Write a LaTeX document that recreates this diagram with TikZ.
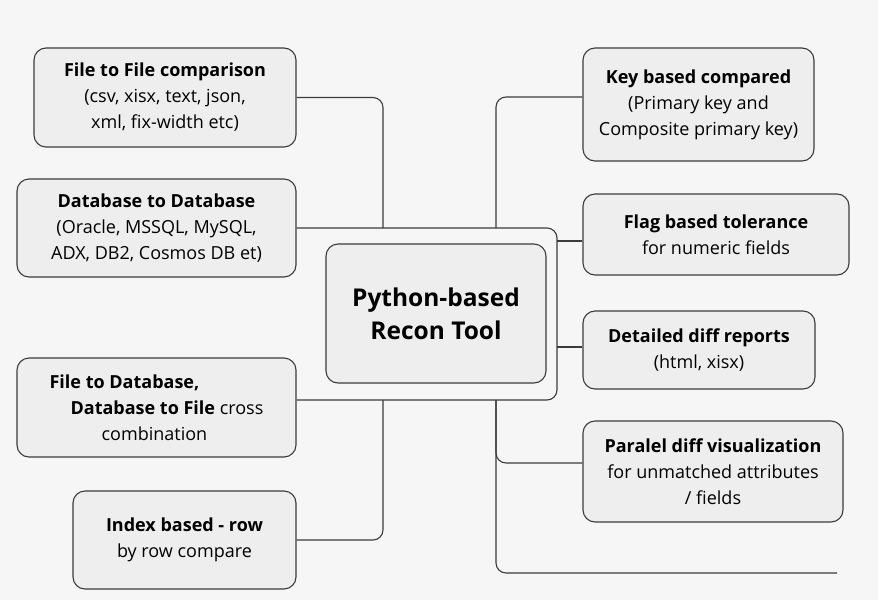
\documentclass[tikz,border=0pt]{standalone}
\usepackage{fontspec}
\setmainfont{Open Sans}
\usetikzlibrary{positioning}

\definecolor{reconSketchBack}{RGB}{246,246,246}
\definecolor{reconSketchFill}{RGB}{238,238,238}
\definecolor{reconSketchLine}{RGB}{60,60,60}
\tikzset{reconSketchBox/.style={
    font=\fontsize{18}{26}\selectfont,
    fill=reconSketchFill,
    draw=reconSketchLine,
    line width=1.1pt,
    rounded corners=12pt,
    align=center,
    inner sep=0pt,
  }
}
\tikzset{reconSketchLink/.style={
    line width=1.1pt,
    reconSketchLine,
    rounded corners=10pt,
  }
}

\begin{document}
\begin{tikzpicture}[x=1pt, y=-1pt]
  \fill[reconSketchBack] (0,0) rectangle (878,600);

  % left column
  \node [reconSketchBox, minimum width=262pt, minimum height=99pt] (fileFile)
  at (165, 97.5) {\textbf{File to File comparison}\\(csv, xisx, text, json,\\xml, fix-width etc)};
  \node [reconSketchBox, minimum width=279pt, minimum height=98pt] (dbDb)
  at (156.5, 228) {\textbf{Database to Database}\\(Oracle, MSSQL, MySQL,\\ADX, DB2, Cosmos DB et)};
  \node [reconSketchBox, minimum width=279pt, minimum height=99pt, align=left] (fileDb)
  at (156.5, 407.5) {\textbf{File to Database,}\\\hspace*{21pt}\textbf{Database to File} cross\\\hspace*{52pt}combination};
  \node [reconSketchBox, minimum width=223pt, minimum height=98pt] (indexRow)
  at (184.5, 540) {\textbf{Index based - row}\\by row compare};

  % right column
  \node [reconSketchBox, minimum width=231pt, minimum height=113pt] (keyBased)
  at (698.5, 104.5) {\textbf{Key based compared}\\(Primary key and\\Composite primary key)};
  \node [reconSketchBox, minimum width=266pt, minimum height=81pt] (flagTol)
  at (716, 234.5) {\textbf{Flag based tolerance}\\for numeric fields};
  \node [reconSketchBox, minimum width=232pt, minimum height=78pt] (diffRep)
  at (699, 350) {\textbf{Detailed diff reports}\\(html, xisx)};
  \node [reconSketchBox, minimum width=260pt, minimum height=101pt] (paraDiff)
  at (713, 471.5) {\textbf{Paralel diff visualization}\\for unmatched attributes\\/ fields};

  % centre
  \node [reconSketchBox, minimum width=220pt, minimum height=139pt,
         font=\fontsize{24.5}{33}\selectfont\bfseries] (recon)
  at (436, 313.5) {Python-based\\Recon Tool};

  \coordinate (frameTop) at (557, 228);
  \coordinate (frameBot) at (557, 400);
  \coordinate (leftTop) at (383, 228);
  \coordinate (leftBot) at (383, 400);
  \coordinate (rightTop) at (496, 228);
  \coordinate (rightBot) at (496, 400);
  \coordinate (tailEnd) at (837, 573);

  \draw[reconSketchLink] (dbDb.east) -- (frameTop) -- (frameBot) -- (fileDb.east |- frameBot);
  \draw[reconSketchLink] (fileFile.east) -| (leftTop);
  \draw[reconSketchLink] (indexRow.east) -| (leftBot);
  \draw[reconSketchLink] (rightTop) |- ([yshift=7.5pt]keyBased.west);
  \draw[reconSketchLink] ([yshift=-6.5pt]flagTol.west) -- ([yshift=-6.5pt]flagTol.west -| frameTop);
  \draw[reconSketchLink] ([yshift=3pt]diffRep.west) -- ([yshift=3pt]diffRep.west -| frameTop);
  \draw[reconSketchLink] (rightBot) |- ([yshift=8.5pt]paraDiff.west);
  \draw[reconSketchLink] (rightBot) |- (tailEnd);
\end{tikzpicture}
\end{document}
